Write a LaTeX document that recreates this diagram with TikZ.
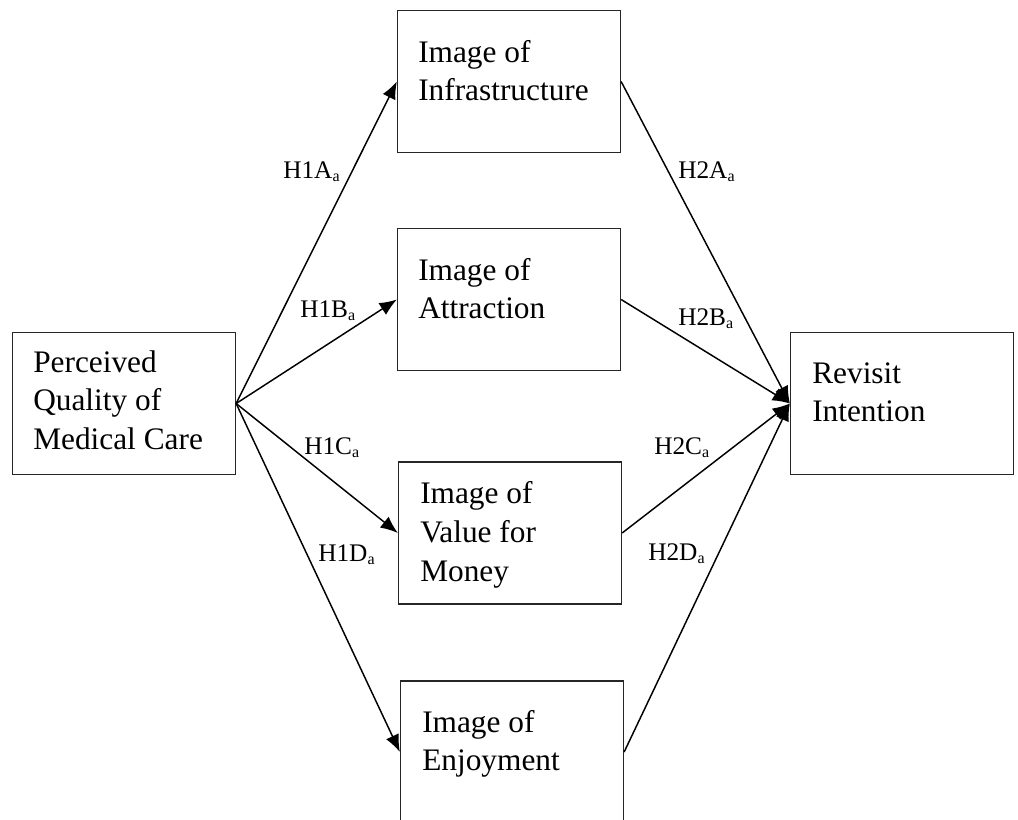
\documentclass[tikz,border=0pt]{standalone}
\usepackage{fontspec}
\setmainfont{Liberation Serif}
\usetikzlibrary{arrows.meta}

\newcommand{\hsub}[1]{\raisebox{-0.3ex}{\fontsize{12}{12}\selectfont #1}}

\begin{document}
\begin{tikzpicture}[x=0.75pt,y=-0.75pt,
  box/.style={draw=black!85,line width=1.2pt,minimum width=167pt,minimum height=106.5pt,inner sep=0pt},
  boxtext/.style={anchor=base west,align=left,font=\fontsize{23.5}{29}\selectfont,inner sep=0pt},
  hyp/.style={anchor=base west,font=\fontsize{19}{23}\selectfont,inner sep=0pt},
  arr/.style={line width=1.1pt,-{Latex[length=13pt,width=10.5pt]}}]
\clip (0,0) rectangle (1018,819);
% boxes
\node [box] (qual) at (124,403.5) {};
\node [box] (infra) at (509,81.5) {};
\node [box] (attr) at (509,299.5) {};
\node [box] (value) at (510,533) {};
\node [box] (enjoy) at (512,752) {};
\node [box] (rev) at (902,403.5) {};
% box texts (base = last line)
\node [boxtext] (qualtxt) at (33,449.5) {Perceived\\Quality of\\Medical Care};
\node [boxtext] (infratxt) at (418,100.7) {Image of\\Infrastructure};
\node [boxtext] (attrtxt) at (418,318.7) {Image of\\Attraction};
\node [boxtext] (valuetxt) at (420,581) {Image of\\Value for\\Money};
\node [boxtext] (enjoytxt) at (422,770.7) {Image of\\Enjoyment};
\node [boxtext] (revtxt) at (812,421.7) {Revisit\\Intention};
% paths
\draw [arr] (qual.east) -- (infra.west);
\draw [arr] (qual.east) -- (attr.west);
\draw [arr] (qual.east) -- (value.west);
\draw [arr] (qual.east) -- (enjoy.west);
\draw [arr] (infra.east) -- (rev.west);
\draw [arr] (attr.east) -- (rev.west);
\draw [arr] (value.east) -- (rev.west);
\draw [arr] (enjoy.east) -- (rev.west);
% hypotheses
\node [hyp] (h1a) at (283,178) {H1A\hsub{a}};
\node [hyp] (h1b) at (300,317) {H1B\hsub{a}};
\node [hyp] (h1c) at (304,454) {H1C\hsub{a}};
\node [hyp] (h1d) at (318,561) {H1D\hsub{a}};
\node [hyp] (h2a) at (678,178) {H2A\hsub{a}};
\node [hyp] (h2b) at (678,325) {H2B\hsub{a}};
\node [hyp] (h2c) at (654,454) {H2C\hsub{a}};
\node [hyp] (h2d) at (648,560) {H2D\hsub{a}};
\end{tikzpicture}
\end{document}
